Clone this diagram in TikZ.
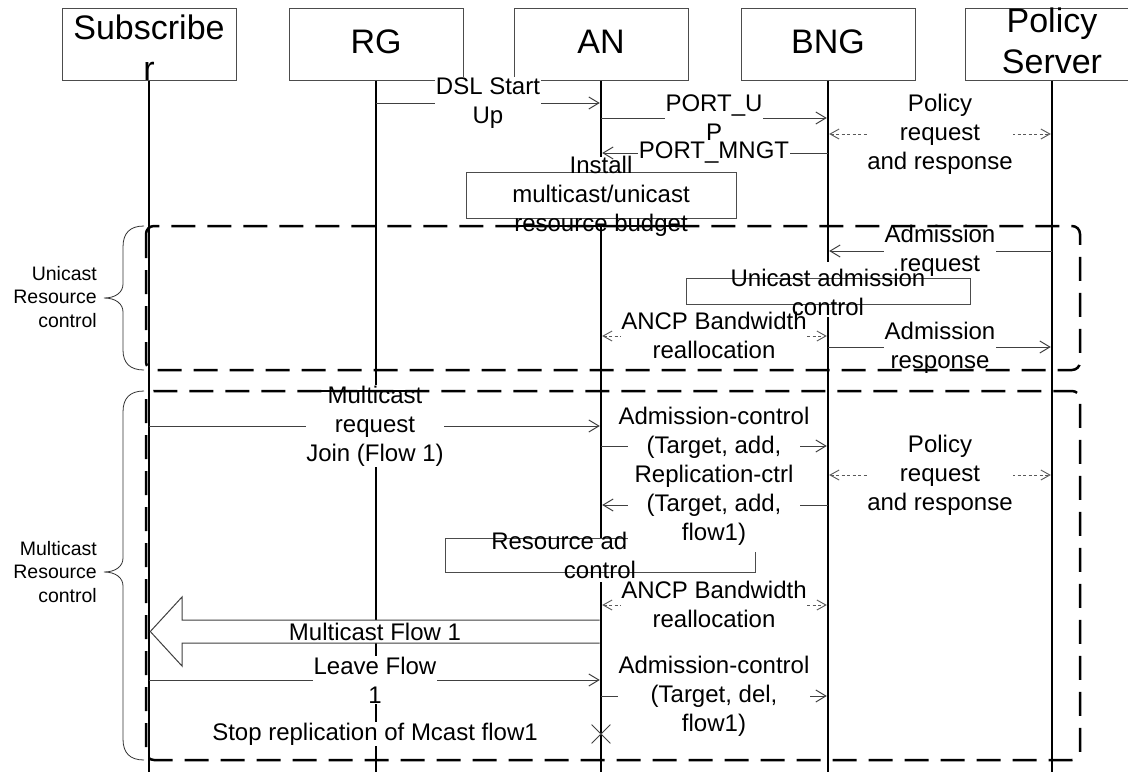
\documentclass[tikz,border=0pt]{standalone}
\usepackage{fontspec}
\setmainfont{Liberation Sans}
\usetikzlibrary{arrows.meta,shapes.misc}
\newcommand\fhdr{\fontsize{34}{41}\selectfont}
\newcommand\fmsg{\fontsize{24}{29}\selectfont}
\newcommand\fbr{\fontsize{19.5}{23.5}\selectfont}
\tikzset{
  hdr/.style={draw=black!70, line width=1pt, minimum width=174pt, minimum height=72pt, inner sep=0pt},
  htxt/.style={font=\fhdr, align=center, inner sep=0pt},
  life/.style={line width=2.5pt, black},
  msg/.style={draw=black!75, line width=1pt, -{Straight Barb[length=10pt,width=12pt]}, shorten >=1.2pt},
  dmsg/.style={draw=black!65, line width=0.9pt, dash pattern=on 3pt off 2.5pt,
     {Straight Barb[length=9pt,width=10pt]}-{Straight Barb[length=9pt,width=10pt]}, shorten >=1.2pt, shorten <=1.2pt},
  lab/.style={fill=white, inner sep=0.5pt, align=center, font=\fmsg},
  btxt/.style={inner sep=0pt, align=center, font=\fmsg},
  bx/.style={draw=black!70, line width=1pt, fill=white, inner sep=0pt},
  cont/.style={draw=black, line width=2.5pt, dash pattern=on 24pt off 12pt, rounded corners=8pt},
  brc/.style={draw=black!80, line width=0.8pt},
  blab/.style={font=\fbr, align=right, inner sep=0pt, anchor=east},
  bigarr/.style={draw=black!75, line width=1pt, fill=white},
}
\begin{document}
\begin{tikzpicture}[x=1pt,y=-1pt]
\useasboundingbox (0,0) rectangle (1128,772);
\fill[white] (0,0) rectangle (1128,772);
% headers
\node[hdr] (sub) at (149,44) {};
\node[hdr] (rg) at (376,44) {};
\node[hdr] (an) at (601,44) {};
\node[hdr] (bng) at (828,44) {};
\node[hdr] (ps) at (1052,44) {};
\node[htxt] (subt) at (149,48) {Subscribe\\r};
\node[htxt] (rgt) at (376,42) {RG};
\node[htxt] (ant) at (601,42) {AN};
\node[htxt] (bngt) at (828,42) {BNG};
\node[htxt] (pst) at (1052,40.5) {Policy\\Server};
% lifeline ends
\coordinate (subB) at (149,772);
\coordinate (rgB) at (376,772);
\coordinate (anB) at (601,772);
\coordinate (bngB) at (828,772);
\coordinate (psB) at (1052,772);
\draw[life] (sub.south) -- (subB);
\draw[life] (rg.south) -- (rgB);
\draw[life] (an.south) -- (anB);
\draw[life] (bng.south) -- (bngB);
\draw[life] (ps.south) -- (psB);
% messages
\draw[msg] (rg.south |- 0,103) -- (an.south |- 0,103);
\draw[msg] (an.south |- 0,118) -- (bng.south |- 0,118);
\draw[msg] (bng.south |- 0,153) -- (an.south |- 0,153);
\draw[dmsg] (bng.south |- 0,134) -- (ps.south |- 0,134);
\draw[msg] (ps.south |- 0,251) -- (bng.south |- 0,251);
\draw[dmsg] (an.south |- 0,336) -- (bng.south |- 0,336);
\draw[msg] (bng.south |- 0,347) -- (ps.south |- 0,347);
\draw[msg] (sub.south |- 0,426) -- (an.south |- 0,426);
\draw[msg] (an.south |- 0,446) -- (bng.south |- 0,446);
\draw[msg] (bng.south |- 0,505) -- (an.south |- 0,505);
\draw[dmsg] (bng.south |- 0,475) -- (ps.south |- 0,475);
\draw[dmsg] (an.south |- 0,605) -- (bng.south |- 0,605);
\draw[msg] (sub.south |- 0,680) -- (an.south |- 0,680);
\draw[msg] (an.south |- 0,696) -- (bng.south |- 0,696);
% masks on lifelines behind boxes
\fill[white] (597,157) rectangle (605,227);
\fill[white] (824,262) rectangle (832,317);
\fill[white] (597,572) rectangle (605,582);
% message labels
\node[lab] (l1) at (488,103) {DSL Start\\Up};
\node[lab] (l2) at (714,118) {PORT\_U\\P};
\node[lab] (l3) at (714,153) {PORT\_MNGT};
\node[lab] (l4) at (940,134) {Policy\\request\\and response};
\node[lab] (l5) at (940,251) {Admission\\request};
\node[lab] (l6) at (714,335) {ANCP Bandwidth\\reallocation};
\node[lab] (l7) at (940,348) {Admission\\response};
\node[lab] (l8) at (375,426) {Multicast\\request\\Join (Flow 1)};
\node[lab] (l11) at (940,475) {Policy\\request\\and response};
\node[lab] (l12) at (714,604) {ANCP Bandwidth\\reallocation};
\node[lab] (l13) at (375,680) {Leave Flow\\1};
\node[lab] (l14) at (714,696) {Admission-control\\(Target, del,\\flow1)};
\node[lab] (l15) at (375,734) {Stop replication of Mcast flow1};
% boxes
\node[bx, minimum width=270pt, minimum height=46pt] (inst) at (601,195) {};
\node[btxt] (instt) at (601,196) {Install\\multicast/unicast\\resource budget};
\node[bx, minimum width=284pt, minimum height=26pt] (uac) at (828,291) {};
\node[btxt] (uact) at (828,292) {Unicast admission\\control};
\node[bx, minimum width=310pt, minimum height=34pt] (rac) at (600,555) {};
\node[btxt] (ract) at (600,555) {Resource admission\\control};
\node[lab, inner xsep=-9pt, inner ysep=7pt] (l9) at (714,476) {Admission-control\\(Target, add,\\Replication-ctrl\\(Target, add,\\flow1)};
% big multicast flow arrow
\draw[bigarr] ([xshift=-1.3pt]an.south |- 0,620) -- (182,620) -- (182,597) -- ([xshift=1.3pt]sub.south |- 0,631.5)
   -- (182,666) -- (182,643) -- ([xshift=-1.3pt]an.south |- 0,643);
\node[lab] (l10) at (375,632) {Multicast Flow 1};
% end of replication
\node[draw=black!75, line width=0.8pt, cross out, minimum size=18pt, inner sep=0pt] (xend) at (an.south |- 0,734) {};
% containers
\draw[cont] (146,226) rectangle (1080,370);
\draw[cont] (146,391) rectangle (1080,760);
\draw[line width=1.2pt] (505,226) -- (697,226);
\draw[line width=1.2pt] (313,391) -- (421,391);
% braces
\draw[brc] (144,226) .. controls (130,226) and (123,233) .. (123,247) -- (123,284)
  .. controls (123,292) and (116,298) .. (104,298) .. controls (116,298) and (123,304) .. (123,312)
  -- (123,350) .. controls (123,363) and (130,370) .. (144,370);
\draw[brc] (144,391) .. controls (130,391) and (123,398) .. (123,412) -- (123,558)
  .. controls (123,566) and (116,572) .. (104,572) .. controls (116,572) and (123,578) .. (123,586)
  -- (123,739) .. controls (123,753) and (130,760) .. (144,760);
\node[blab] (b1) at (97,297) {Unicast\\Resource\\control};
\node[blab] (b2) at (97,572) {Multicast\\Resource\\control};
\end{tikzpicture}
\end{document}
